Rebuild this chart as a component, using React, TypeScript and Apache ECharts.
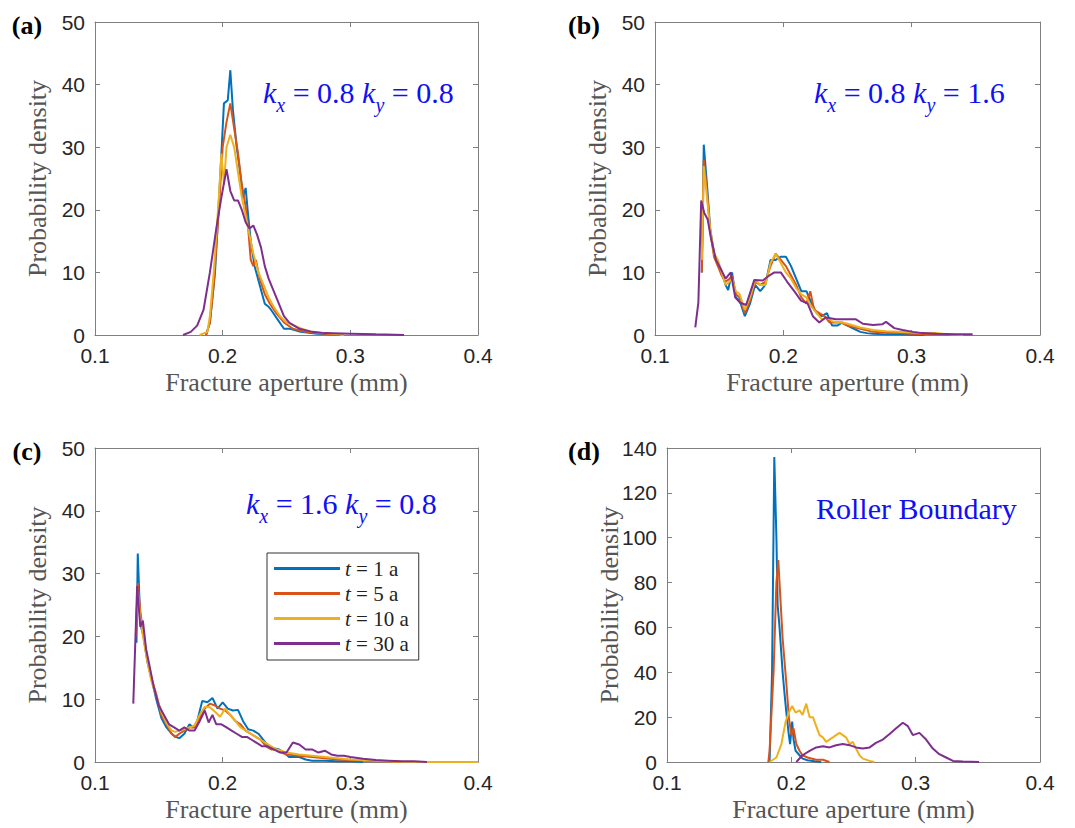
import React, { useEffect, useRef } from "react";
import * as echarts from "echarts";

const COLORS = ["#0072BD", "#D95319", "#EDB120", "#7E2F8E"];
const SERIES_NAMES = ["t = 1 a", "t = 5 a", "t = 10 a", "t = 30 a"];
const X_TICKS = [0.1, 0.2, 0.3, 0.4];
const Y_MAX = [50, 50, 50, 140];
const Y_INTERVAL = [10, 10, 10, 20];
const PANEL_LABELS = ["(a)", "(b)", "(c)", "(d)"];
const X_TITLE = "Fracture aperture (mm)";
const Y_TITLE = "Probability density";

// Panel (a) kx=0.8 ky=0.8
const A_T1 = [[0.187,0],[0.190,2],[0.194,10],[0.198,25],[0.201,37],[0.204,37.5],[0.206,42.3],[0.208,36],[0.211,30],[0.213,27],[0.216,22],[0.218,23.5],[0.220,19],[0.222,15],[0.225,11],[0.229,8],[0.233,5],[0.236,4.5],[0.238,4],[0.243,2.5],[0.248,1],[0.253,1],[0.261,0.5],[0.274,0.2],[0.287,0.1],[0.292,0]];
const A_T5 = [[0.187,0],[0.190,2],[0.193,8],[0.197,20],[0.200,30],[0.203,34],[0.206,37],[0.209,33],[0.212,29],[0.215,24],[0.218,20.5],[0.220,17],[0.222,12],[0.224,11],[0.226,12],[0.229,9],[0.233,6.5],[0.237,5],[0.242,3.5],[0.248,2],[0.255,1],[0.265,0.5],[0.280,0.2],[0.290,0]];
const A_T10 = [[0.182,0],[0.188,0.5],[0.190,3],[0.193,10],[0.197,22],[0.199,29],[0.201,24],[0.203,30],[0.206,32],[0.209,30],[0.212,26],[0.215,22],[0.218,19],[0.221,16],[0.224,13],[0.228,10],[0.232,8],[0.236,6],[0.240,4.5],[0.245,3],[0.250,2],[0.256,1.5],[0.262,1],[0.270,0.5],[0.280,0.3],[0.290,0.1],[0.295,0]];
const A_T30 = [[0.169,0],[0.175,0.5],[0.180,1.5],[0.185,4],[0.190,10],[0.195,17],[0.199,22],[0.203,26.5],[0.206,23],[0.209,21.5],[0.212,21.5],[0.215,20],[0.218,18],[0.221,17],[0.224,17.5],[0.227,16],[0.230,14],[0.233,11],[0.236,9],[0.240,7],[0.244,5],[0.248,3],[0.252,2],[0.256,1.5],[0.260,1],[0.270,0.5],[0.280,0.3],[0.300,0.2],[0.320,0.1],[0.342,0]];

// Panel (b) kx=0.8 ky=1.6
const B_T1 = [[0.1365,10],[0.138,30.4],[0.1405,24],[0.143,17],[0.146,13],[0.149,11.5],[0.152,10],[0.155,8],[0.157,7.2],[0.160,10],[0.163,6],[0.166,5.5],[0.170,3],[0.174,5],[0.178,8],[0.182,7],[0.186,8],[0.190,12],[0.194,12],[0.198,12.5],[0.202,12.5],[0.206,11],[0.210,9],[0.214,7],[0.218,7],[0.222,5],[0.226,3.5],[0.230,3],[0.234,3.5],[0.238,1.5],[0.242,1.5],[0.246,2],[0.250,1.5],[0.255,1],[0.260,0.5],[0.265,0.3],[0.270,0.2],[0.280,0.1],[0.290,0.1],[0.300,0.05],[0.310,0]];
const B_T5 = [[0.1365,10],[0.138,28],[0.1405,23],[0.143,16.5],[0.146,12.5],[0.149,11],[0.152,9.5],[0.155,8.5],[0.158,9],[0.160,9.5],[0.163,6.5],[0.166,6],[0.170,3.5],[0.174,5.5],[0.178,8.5],[0.182,8],[0.186,8.5],[0.190,11],[0.194,13],[0.198,12],[0.202,11],[0.206,9.5],[0.210,8],[0.214,6],[0.218,5],[0.221,7],[0.224,4],[0.228,3.5],[0.232,3],[0.236,2],[0.240,2],[0.245,2],[0.250,1.5],[0.260,1],[0.270,0.5],[0.280,0.4],[0.290,0.3],[0.300,0.2],[0.310,0.1],[0.320,0.1],[0.330,0]];
const B_T10 = [[0.1365,12],[0.138,27],[0.1405,22],[0.143,17],[0.146,13],[0.149,12],[0.152,10],[0.155,8],[0.158,8.5],[0.160,9],[0.163,7],[0.166,6.5],[0.170,4],[0.174,6],[0.178,8.8],[0.182,8],[0.186,8],[0.190,11.5],[0.194,13],[0.198,11.5],[0.202,10],[0.206,9],[0.210,7.5],[0.214,6.5],[0.218,6],[0.222,4.5],[0.226,3.5],[0.230,2.5],[0.234,2.8],[0.238,2.2],[0.242,2],[0.246,2],[0.250,1.8],[0.260,1.2],[0.270,0.8],[0.280,0.6],[0.290,0.5],[0.300,0.4],[0.310,0.3],[0.320,0.3],[0.330,0.1],[0.340,0]];
const B_T30 = [[0.1314,1.2],[0.1338,5.2],[0.136,21.5],[0.1384,19.5],[0.141,18.5],[0.1436,15.5],[0.1475,12],[0.1514,10.5],[0.155,9],[0.159,10],[0.1625,6],[0.166,5.2],[0.171,4.8],[0.1774,8.8],[0.184,8.7],[0.189,9.5],[0.193,10],[0.198,10],[0.203,8.5],[0.2085,7],[0.2138,5.5],[0.219,5],[0.223,3],[0.228,2],[0.233,2.8],[0.241,2.5],[0.249,2.5],[0.2566,2.5],[0.262,1.8],[0.270,1.6],[0.277,1.7],[0.280,2.1],[0.2865,1.1],[0.293,0.8],[0.301,0.5],[0.308,0.3],[0.319,0.2],[0.3345,0.1],[0.3475,0.1]];

// Panel (c) kx=1.6 ky=0.8
const C_T1 = [[0.1325,19],[0.1335,33.2],[0.1355,22],[0.138,20],[0.141,16],[0.144,13.5],[0.148,10],[0.152,7],[0.156,5.5],[0.160,4.5],[0.163,4],[0.166,3.8],[0.170,4.5],[0.174,6],[0.177,5.5],[0.180,6.5],[0.184,9.7],[0.188,9.5],[0.192,10.2],[0.196,8.5],[0.200,9.5],[0.204,8.5],[0.208,8.2],[0.212,8.3],[0.216,6.5],[0.220,5.2],[0.224,5],[0.228,4.5],[0.232,3.5],[0.236,2.5],[0.240,2.2],[0.244,2],[0.248,1.5],[0.252,0.8],[0.256,0.8],[0.260,0.8],[0.265,0.4],[0.270,0.2],[0.280,0.2],[0.290,0.1],[0.300,0.1],[0.310,0]];
const C_T5 = [[0.132,20],[0.1335,28.5],[0.1355,24],[0.138,20],[0.141,16.5],[0.144,13.5],[0.148,10.8],[0.152,7.5],[0.156,6],[0.160,4.5],[0.163,4],[0.166,4.5],[0.170,5],[0.174,5.5],[0.178,5.5],[0.182,7],[0.186,8.5],[0.190,9.3],[0.194,9],[0.198,8.5],[0.202,8.2],[0.206,7.5],[0.210,6.5],[0.214,6],[0.218,5],[0.222,4.5],[0.226,4],[0.230,3.5],[0.234,2.5],[0.238,2],[0.242,2],[0.246,1.5],[0.250,1.2],[0.260,1],[0.270,0.8],[0.280,0.6],[0.290,0.4],[0.300,0.3],[0.310,0.2],[0.320,0.1],[0.330,0.1],[0.340,0]];
const C_T10 = [[0.132,22],[0.1335,27],[0.1355,23],[0.138,19.5],[0.141,16],[0.144,13],[0.148,10.5],[0.152,8],[0.156,6.2],[0.160,5],[0.163,4.8],[0.166,5],[0.170,5.2],[0.174,5.5],[0.178,5.8],[0.182,7.5],[0.186,8.8],[0.190,8.7],[0.194,8],[0.198,7.2],[0.202,8.5],[0.206,7.5],[0.210,6.5],[0.214,5.5],[0.218,5],[0.222,4.5],[0.226,4],[0.230,3.5],[0.234,3],[0.238,2.5],[0.242,2],[0.246,1.8],[0.250,1.5],[0.260,1.2],[0.270,1],[0.280,0.8],[0.290,0.6],[0.300,0.4],[0.310,0.3],[0.320,0.2],[0.330,0.1],[0.340,0.05],[0.360,0],[0.380,0],[0.400,0]];
const C_T30 = [[0.130,9.3],[0.133,28],[0.1355,21.5],[0.1375,22.5],[0.140,18],[0.143,15],[0.146,12],[0.150,9],[0.154,7.5],[0.158,6],[0.162,5.5],[0.166,5],[0.170,5.5],[0.174,5],[0.178,5],[0.182,6.5],[0.186,8.2],[0.189,6.3],[0.192,7.5],[0.195,6],[0.199,6],[0.203,5.5],[0.207,5],[0.211,4.5],[0.215,4],[0.219,4],[0.223,3.5],[0.227,3],[0.231,2.5],[0.235,2.5],[0.240,2],[0.245,1.5],[0.250,1.5],[0.255,3.1],[0.260,2.8],[0.265,2],[0.270,2],[0.275,1.5],[0.280,1.8],[0.285,1.2],[0.290,1],[0.295,1],[0.300,0.8],[0.310,0.5],[0.320,0.3],[0.330,0.2],[0.340,0.1],[0.350,0.1],[0.360,0]];

// Panel (d) roller boundary
const D_T1 = [[0.1825,0],[0.1845,40],[0.1863,136],[0.188,100],[0.189,70],[0.1905,60],[0.193,40],[0.1946,30],[0.196,22],[0.198,12],[0.199,8],[0.2007,18],[0.2018,10],[0.2034,5],[0.2066,3],[0.209,1.5],[0.213,0.8],[0.2187,0.3],[0.224,0]];
const D_T5 = [[0.1815,0],[0.1825,5],[0.1857,40],[0.188,80],[0.1895,90],[0.191,75],[0.193,55],[0.196,35],[0.198,20],[0.200,12],[0.2018,15],[0.204,8],[0.2066,5],[0.209,3],[0.213,2],[0.220,1],[0.2254,1],[0.2307,0]];
const D_T10 = [[0.1825,0],[0.188,2],[0.192,8],[0.1954,18],[0.198,22],[0.2007,25],[0.2034,22],[0.2066,23],[0.209,21],[0.212,26],[0.2147,20],[0.2174,20],[0.220,16],[0.2227,12],[0.2254,11],[0.228,9],[0.2307,10],[0.2334,11],[0.236,12],[0.2388,13],[0.2414,12],[0.244,11],[0.2468,8],[0.2494,9],[0.252,6],[0.2548,3],[0.2575,1.5],[0.263,0.5],[0.2669,0]];
const D_T30 = [[0.204,0],[0.209,3],[0.2147,5],[0.220,6.5],[0.2254,7],[0.2307,6.5],[0.236,7.5],[0.2414,8],[0.2468,7.5],[0.252,6.5],[0.2575,6],[0.263,6.5],[0.268,8.5],[0.2736,10],[0.279,12.5],[0.2843,15],[0.2897,17.5],[0.2937,16],[0.2977,12],[0.303,13],[0.3084,10],[0.3138,6],[0.319,3.5],[0.3245,2],[0.330,0.5],[0.338,0.2],[0.351,0]];

const PANEL_DATA = [
  [A_T1, A_T5, A_T10, A_T30],
  [B_T1, B_T5, B_T10, B_T30],
  [C_T1, C_T5, C_T10, C_T30],
  [D_T1, D_T5, D_T10, D_T30],
];

const GRIDS = [
  { left: 95, top: 22, width: 383, height: 313 },
  { left: 655, top: 22, width: 385, height: 313 },
  { left: 95, top: 448, width: 383, height: 314 },
  { left: 667, top: 448, width: 373, height: 314 },
];

const AXIS_GRAY = "#7f7f7f";
const LABEL_COLOR = "#262626";
const TITLE_COLOR = "#555555";
const BLUE = "#1010f5";
const SANS = "Liberation Sans, Arial, sans-serif";
const SERIF = "Liberation Serif, Times New Roman, serif";

function kText(a: string, b: string) {
  return `{k|k}{s|x}{n| = ${a} }{k|k}{s|y}{n| = ${b}}`;
}

const ANNOTATIONS = [
  { text: kText("0.8", "0.8"), x: 263, y: 96 },
  { text: kText("0.8", "1.6"), x: 814, y: 96 },
  { text: kText("1.6", "0.8"), x: 246, y: 507 },
  { text: "{n|Roller Boundary}", x: 816, y: 512 },
];

export default function App() {
  const ref = useRef<HTMLDivElement>(null);
  useEffect(() => {
    if (!ref.current) return;
    const chart = echarts.init(ref.current, null, { renderer: "svg" });
    const xAxes: any[] = [];
    const yAxes: any[] = [];
    GRIDS.forEach((_, i) => {
      const common = {
        type: "value",
        gridIndex: i,
        min: 0.1,
        max: 0.4,
        interval: 0.1,
        splitLine: { show: false },
        axisLine: { show: true, onZero: false, lineStyle: { color: AXIS_GRAY, width: 1 } },
        axisTick: { show: true, inside: true, length: 5, lineStyle: { color: AXIS_GRAY } },
      };
      xAxes.push({
        ...common,
        position: "bottom",
        axisLabel: { show: true, fontSize: 21, color: LABEL_COLOR, fontFamily: SANS, margin: 10 },
      });
      xAxes.push({ ...common, position: "top", axisLabel: { show: false } });
      const ycommon = {
        type: "value",
        gridIndex: i,
        min: 0,
        max: Y_MAX[i],
        interval: Y_INTERVAL[i],
        splitLine: { show: false },
        axisLine: { show: true, onZero: false, lineStyle: { color: AXIS_GRAY, width: 1 } },
        axisTick: { show: true, inside: true, length: 5, lineStyle: { color: AXIS_GRAY } },
      };
      yAxes.push({
        ...ycommon,
        position: "left",
        axisLabel: { show: true, fontSize: 21, color: LABEL_COLOR, fontFamily: SANS, margin: 10 },
      });
      yAxes.push({ ...ycommon, position: "right", axisLabel: { show: false } });
    });

    const series: any[] = [];
    PANEL_DATA.forEach((panel, i) => {
      panel.forEach((data, j) => {
        series.push({
          type: "line",
          name: SERIES_NAMES[j],
          xAxisIndex: i * 2,
          yAxisIndex: i * 2,
          data,
          showSymbol: false,
          symbol: "none",
          lineStyle: { color: COLORS[j], width: 2 },
          itemStyle: { color: COLORS[j] },
          z: 2 + j,
        });
      });
    });

    const graphics: any[] = [];
    GRIDS.forEach((g, i) => {
      graphics.push({
        type: "text",
        x: g.left + g.width / 2,
        y: g.top + g.height + 47,
        style: {
          text: X_TITLE,
          font: `26px ${SERIF}`,
          fill: TITLE_COLOR,
          align: "center",
          verticalAlign: "middle",
        },
      });
      graphics.push({
        type: "text",
        x: g.left - 58,
        y: g.top + g.height / 2,
        rotation: Math.PI / 2,
        style: {
          text: Y_TITLE,
          font: `26px ${SERIF}`,
          fill: TITLE_COLOR,
          align: "center",
          verticalAlign: "middle",
        },
      });
      const lx = i % 2 === 0 ? 27 : 584;
      graphics.push({
        type: "text",
        x: lx,
        y: g.top + 3,
        style: {
          text: PANEL_LABELS[i],
          font: `bold 26px ${SERIF}`,
          fill: "#000",
          align: "center",
          verticalAlign: "middle",
        },
      });
      const an = ANNOTATIONS[i];
      graphics.push({
        type: "text",
        x: an.x,
        y: an.y,
        style: {
          text: an.text,
          fill: BLUE,
          align: "left",
          verticalAlign: "middle",
          rich: {
            k: { fontSize: 30, fontStyle: "italic", fontFamily: SERIF, fill: BLUE, verticalAlign: "bottom", padding: [0, 0, 8, 0] },
            s: { fontSize: 20, fontStyle: "italic", fontFamily: SERIF, fill: BLUE, verticalAlign: "bottom" },
            n: { fontSize: 30, fontFamily: SERIF, fill: BLUE, verticalAlign: "bottom", padding: [0, 0, 8, 0] },
          },
        },
      });
    });

    chart.setOption({
      animation: false,
      backgroundColor: "#ffffff",
      grid: GRIDS.map((g) => ({ ...g, containLabel: false })),
      xAxis: xAxes,
      yAxis: yAxes,
      series,
      legend: {
        data: SERIES_NAMES,
        orient: "vertical",
        left: 267,
        top: 553,
        padding: [5, 10, 6, 7],
        itemWidth: 66,
        itemHeight: 3,
        itemGap: 4,
        icon: "rect",
        selectedMode: false,
        borderColor: "#333",
        borderWidth: 1,
        backgroundColor: "#fff",
        formatter: (name: string) => `{i|t}{n|${name.slice(1)}}`,
        textStyle: {
          lineHeight: 20,
          rich: {
            i: { fontSize: 21, fontStyle: "italic", fontFamily: SERIF, color: "#222", lineHeight: 20 },
            n: { fontSize: 21, fontFamily: SERIF, color: "#222", lineHeight: 20 },
          },
        },
      },
      graphic: graphics,
    });
    return () => chart.dispose();
  }, []);
  return (
    <div
      ref={ref}
      style={{ position: "absolute", left: 0, top: 0, width: 1075, height: 828, background: "#fff" }}
    />
  );
}
